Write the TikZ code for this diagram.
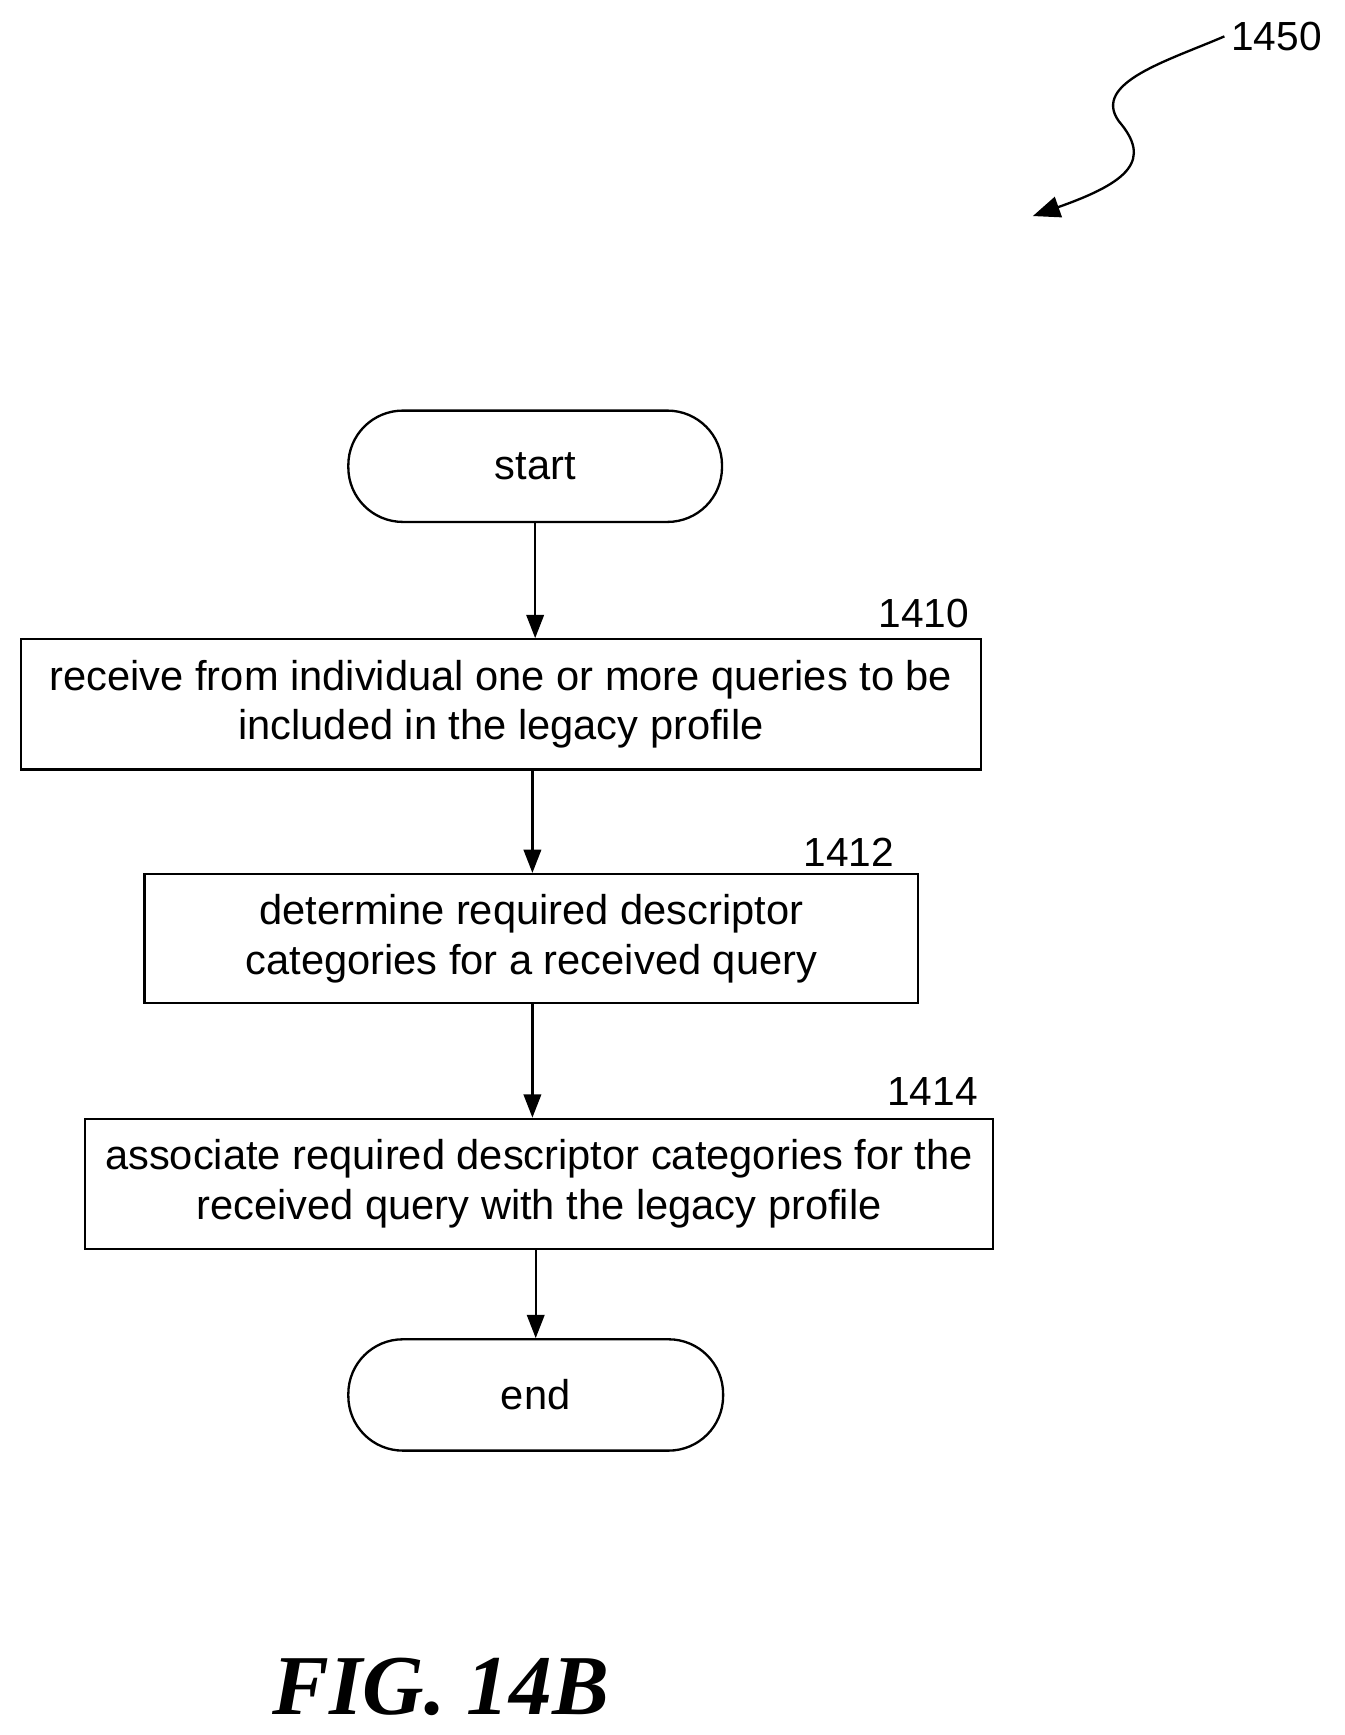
\documentclass[tikz,border=0pt]{standalone}
\usepackage{fontspec}
\setmainfont{Liberation Sans}
\newfontfamily\figfont{Liberation Serif}
\usetikzlibrary{arrows.meta}
\begin{document}
\begin{tikzpicture}[x=0.02cm,y=-0.02cm,
  box/.style={draw,line width=1.2pt,inner sep=0pt,font=\fontsize{21.5}{25.5}\selectfont,align=center},
  capsule/.style={box,rounded corners=0.99cm},
  lbl/.style={font=\fontsize{21}{24}\selectfont},
  arr/.style={-{Triangle[length=12pt,width=9pt]},line width=1.2pt}]
\useasboundingbox (0,0) rectangle (1220,1574);
\node[capsule,minimum width=339*0.02cm,minimum height=101*0.02cm] (s) at (485.5,423) {start};
\node[box,minimum width=871*0.02cm,minimum height=118*0.02cm] (b1) at (454.5,639) {receive from individual one or more queries to be\\included in the legacy profile};
\node[box,minimum width=702*0.02cm,minimum height=117*0.02cm] (b2) at (482,851.5) {determine required descriptor\\categories for a received query};
\node[box,minimum width=824*0.02cm,minimum height=118*0.02cm] (b3) at (489,1074) {associate required descriptor categories for the\\received query with the legacy profile};
\node[capsule,minimum width=340*0.02cm,minimum height=101*0.02cm] (e) at (486,1265.5) {end};
\node[lbl] (l1) at (838,557) {1410};
\node[lbl] (l2) at (770,773) {1412};
\node[lbl] (l3) at (846,990) {1414};
\node[lbl] (l0) at (1158,33) {1450};
\draw[arr] (s.south) -- (s.south |- b1.north);
\draw[arr] (b1.south -| 483,0) -- (b2.north -| 483,0);
\draw[arr] (b2.south -| 483,0) -- (b3.north -| 483,0);
\draw[arr] (b3.south -| 486,0) -- (e.north -| 486,0);
\coordinate (t) at (937,196);
\draw[-{Triangle[length=14pt,width=11pt]},line width=1.2pt] (l0.west) .. controls (1060,55) and (990,75) .. (1015,110) .. controls (1045,145) and (1025,165) .. (t);
\node[font=\figfont\bfseries\itshape\fontsize{44}{48}\selectfont] (fig) at (400,1530) {FIG. 14B};
\end{tikzpicture}
\end{document}
